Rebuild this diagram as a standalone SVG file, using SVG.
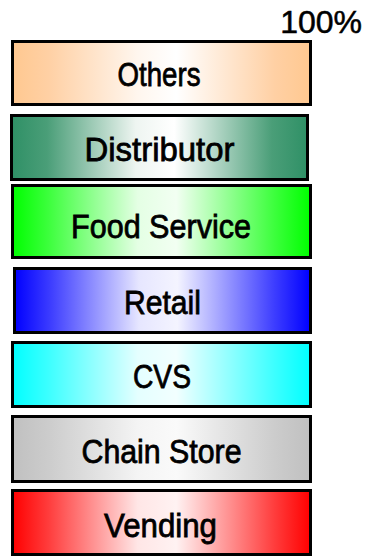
<svg xmlns="http://www.w3.org/2000/svg" width="365" height="557" viewBox="0 0 365 557">
  <defs>
    <!-- horizontal fades: tinted edges, white middle -->
    <linearGradient id="gOthers" x1="0" y1="0" x2="1" y2="0">
      <stop offset="0" stop-color="#FFC890"/><stop offset="0.12" stop-color="#FFD0A4"/><stop offset="0.42" stop-color="#FFF6EE"/><stop offset="0.55" stop-color="#FFFFFF"/><stop offset="0.88" stop-color="#FFD0A4"/><stop offset="1" stop-color="#FFC890"/>
    </linearGradient>
    <linearGradient id="gDistributor" x1="0" y1="0" x2="1" y2="0">
      <stop offset="0" stop-color="#2F9066"/><stop offset="0.12" stop-color="#4A9E78"/><stop offset="0.42" stop-color="#EEF5F1"/><stop offset="0.55" stop-color="#FFFFFF"/><stop offset="0.88" stop-color="#4A9E78"/><stop offset="1" stop-color="#2F9066"/>
    </linearGradient>
    <linearGradient id="gFood" x1="0" y1="0" x2="1" y2="0">
      <stop offset="0" stop-color="#00FF00"/><stop offset="0.12" stop-color="#3CFF3C"/><stop offset="0.42" stop-color="#E4FFE4"/><stop offset="0.55" stop-color="#F2FFF2"/><stop offset="0.88" stop-color="#3CFF3C"/><stop offset="1" stop-color="#00FF00"/>
    </linearGradient>
    <linearGradient id="gRetail" x1="0" y1="0" x2="1" y2="0">
      <stop offset="0" stop-color="#0000FF"/><stop offset="0.12" stop-color="#3C3CFF"/><stop offset="0.42" stop-color="#E6E6FF"/><stop offset="0.55" stop-color="#F4F4FF"/><stop offset="0.88" stop-color="#3C3CFF"/><stop offset="1" stop-color="#0000FF"/>
    </linearGradient>
    <linearGradient id="gCVS" x1="0" y1="0" x2="1" y2="0">
      <stop offset="0" stop-color="#00FFFF"/><stop offset="0.12" stop-color="#3CFFFF"/><stop offset="0.42" stop-color="#E4FFFF"/><stop offset="0.55" stop-color="#F2FFFF"/><stop offset="0.88" stop-color="#3CFFFF"/><stop offset="1" stop-color="#00FFFF"/>
    </linearGradient>
    <linearGradient id="gChain" x1="0" y1="0" x2="1" y2="0">
      <stop offset="0" stop-color="#C0C0C0"/><stop offset="0.12" stop-color="#CCCCCC"/><stop offset="0.42" stop-color="#F4F4F4"/><stop offset="0.55" stop-color="#FAFAFA"/><stop offset="0.88" stop-color="#CCCCCC"/><stop offset="1" stop-color="#C0C0C0"/>
    </linearGradient>
    <linearGradient id="gVending" x1="0" y1="0" x2="1" y2="0">
      <stop offset="0" stop-color="#FF0000"/><stop offset="0.12" stop-color="#FF3C3C"/><stop offset="0.42" stop-color="#FFE6E6"/><stop offset="0.55" stop-color="#FFF2F2"/><stop offset="0.88" stop-color="#FF3C3C"/><stop offset="1" stop-color="#FF0000"/>
    </linearGradient>
  </defs>
  <style>
    .box { stroke: #000; stroke-width: 3; }
    .lbl { font-family: "Liberation Sans", Arial, sans-serif; font-size: 34px; fill: #000; stroke: #000; stroke-width: 0.8; text-anchor: middle; }
    .pct { font-family: "Liberation Sans", Arial, sans-serif; font-size: 32px; fill: #000; stroke: #000; stroke-width: 0.5; text-anchor: end; }
  </style>
  <rect width="365" height="557" fill="#FFFFFF"/>

  <text class="pct" x="362" y="33">100%</text>

  <g id="others">
    <rect class="box" x="12.5" y="41.5" width="298" height="63" fill="url(#gOthers)"/>
    <text class="lbl" x="159" y="85.5" textLength="83" lengthAdjust="spacingAndGlyphs">Others</text>
  </g>
  <g id="distributor">
    <rect class="box" x="11.5" y="115.5" width="296" height="64" fill="url(#gDistributor)"/>
    <text class="lbl" x="159.5" y="161" textLength="150" lengthAdjust="spacingAndGlyphs">Distributor</text>
  </g>
  <g id="food-service">
    <rect class="box" x="12.5" y="185.5" width="298" height="72" fill="url(#gFood)"/>
    <text class="lbl" x="161" y="238" textLength="180" lengthAdjust="spacingAndGlyphs">Food Service</text>
  </g>
  <g id="retail">
    <rect class="box" x="14.5" y="268.5" width="296" height="64" fill="url(#gRetail)"/>
    <text class="lbl" x="162.5" y="314" textLength="77" lengthAdjust="spacingAndGlyphs">Retail</text>
  </g>
  <g id="cvs">
    <rect class="box" x="12.5" y="342.5" width="298" height="64" fill="url(#gCVS)"/>
    <text class="lbl" x="162" y="387.5" textLength="58" lengthAdjust="spacingAndGlyphs">CVS</text>
  </g>
  <g id="chain-store">
    <rect class="box" x="12.5" y="416.5" width="298" height="65" fill="url(#gChain)"/>
    <text class="lbl" x="161.5" y="463" textLength="160" lengthAdjust="spacingAndGlyphs">Chain Store</text>
  </g>
  <g id="vending">
    <rect class="box" x="12.5" y="490.5" width="298" height="64" fill="url(#gVending)"/>
    <text class="lbl" x="160.5" y="536.5" textLength="113" lengthAdjust="spacingAndGlyphs">Vending</text>
  </g>

  <g id="connectors"/>
</svg>
